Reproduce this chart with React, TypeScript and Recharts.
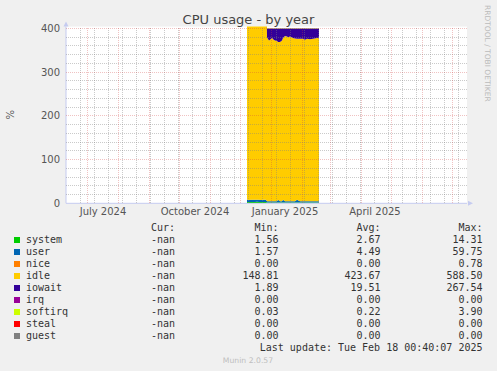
import React from 'react';
import { ComposedChart, Area, XAxis, YAxis, CartesianGrid, ReferenceLine, ReferenceDot } from 'recharts';

// days since 1 July 2024
const days = [160, 162, 164, 166, 168, 170, 172, 174, 176, 178, 179,
  180, 181, 182, 184, 185, 186, 188, 190, 191, 193, 195, 196, 198, 200, 201, 203, 206, 208, 210, 213, 216, 218, 220, 223, 226, 230, 232];

const systemVals = [3.2, 3.0, 3.1, 2.9, 3.0, 3.3, 3.1, 2.9, 3.0, 3.2, 3.1,
  2.0, 2.0, 2.0, 2.0, 2.0, 2.0, 2.0, 2.0, 2.0, 2.0, 2.0, 2.0, 2.0, 2.0, 2.0, 2.0, 2.0, 2.0, 2.0, 2.0, 2.0, 2.0, 2.0, 2.0, 2.0, 2.0, 2.0];
const userVals = [5.5, 4.8, 5.0, 5.2, 4.9, 5.1, 5.3, 4.8, 5.0, 5.2, 5.0,
  2.8, 2.8, 2.8, 2.8, 2.8, 2.8, 2.8, 2.8, 6.0, 2.8, 2.8, 6.0, 2.8, 2.8, 2.8, 2.8, 2.8, 2.8, 6.0, 2.8, 2.8, 2.8, 2.8, 2.8, 2.8, 2.8, 2.8];
const niceVals = [0, 0, 0, 0, 0, 0, 0, 0, 0, 0, 0,
  0, 0, 0, 0, 0, 0, 0, 0, 0, 0, 0, 0, 0, 0, 0, 0, 0, 0, 0, 0, 0, 0, 0, 0, 0, 0, 0];
const idleVals = [578, 581, 580, 583, 579, 582, 580, 584, 581, 579, 580,
  375.0, 371.0, 367.6, 371.0, 373.5, 370.0, 367.6, 366.0, 360.5, 363.7, 367.6, 369.6, 377.4, 376.7, 375.0, 376.7, 372.8, 372.0, 368.0, 371.2, 371.2, 369.0, 371.2, 369.9, 371.2, 372.8, 373.5];
const iowaitVals = [2.1, 2.4, 2.0, 2.2, 2.6, 2.1, 2.3, 2.0, 2.5, 2.2, 2.3,
  20, 24, 27.4, 24, 21.5, 25, 27.4, 29, 31.3, 31.3, 27.4, 22.2, 17.6, 18.3, 20, 18.3, 22.2, 23, 23.8, 23.8, 23.8, 26, 23.8, 25.1, 23.8, 22.2, 21.5];
const irqVals = [0, 0, 0, 0, 0, 0, 0, 0, 0, 0, 0,
  0, 0, 0, 0, 0, 0, 0, 0, 0, 0, 0, 0, 0, 0, 0, 0, 0, 0, 0, 0, 0, 0, 0, 0, 0, 0, 0];
const softirqVals = [0.3, 0.3, 0.3, 0.3, 0.3, 0.3, 0.3, 0.3, 0.3, 0.3, 0.3,
  0.2, 0.2, 0.2, 0.2, 0.2, 0.2, 0.2, 0.2, 0.2, 0.2, 0.2, 0.2, 0.2, 0.2, 0.2, 0.2, 0.2, 0.2, 0.2, 0.2, 0.2, 0.2, 0.2, 0.2, 0.2, 0.2, 0.2];
const stealVals = [0, 0, 0, 0, 0, 0, 0, 0, 0, 0, 0,
  0, 0, 0, 0, 0, 0, 0, 0, 0, 0, 0, 0, 0, 0, 0, 0, 0, 0, 0, 0, 0, 0, 0, 0, 0, 0, 0];
const guestVals = [0, 0, 0, 0, 0, 0, 0, 0, 0, 0, 0,
  0, 0, 0, 0, 0, 0, 0, 0, 0, 0, 0, 0, 0, 0, 0, 0, 0, 0, 0, 0, 0, 0, 0, 0, 0, 0, 0];

const seriesNames = ['system', 'user', 'nice', 'idle', 'iowait', 'irq', 'softirq', 'steal', 'guest'];
const seriesColors = ['#00CC00', '#0066B3', '#FF8000', '#FFCC00', '#330099', '#990099', '#CCFF00', '#FF0000', '#808080'];
const curVals = ['-nan', '-nan', '-nan', '-nan', '-nan', '-nan', '-nan', '-nan', '-nan'];
const minVals = ['1.56', '1.57', '0.00', '148.81', '1.89', '0.00', '0.03', '0.00', '0.00'];
const avgVals = ['2.67', '4.49', '0.00', '423.67', '19.51', '0.00', '0.22', '0.00', '0.00'];
const maxVals = ['14.31', '59.75', '0.78', '588.50', '267.54', '0.00', '3.90', '0.00', '0.00'];

const xTicks = [16, 108, 198, 288];
const xTickLabels = ['July 2024', 'October 2024', 'January 2025', 'April 2025'];
const yTicks = [0, 100, 200, 300, 400];
const yMinorGrid = [20, 40, 60, 80, 120, 140, 160, 180, 220, 240, 260, 280, 320, 340, 360, 380];
const yMajorGrid = [100, 200, 300, 400];
const xMinorGrid = [-7, 7, 21, 35, 49, 63, 77, 91, 105, 119, 133, 147, 161, 175, 189, 203, 217, 231, 245, 259, 273, 287, 301, 315, 329, 343, 357, 371];
const xMajorGrid = [0, 31, 62, 92, 123, 153, 184, 215, 243, 274, 304, 335, 365];

const seriesValues = [systemVals, userVals, niceVals, idleVals, iowaitVals, irqVals, softirqVals, stealVals, guestVals];
const data = days.map((d, i) => {
  const row: any = { day: d };
  seriesNames.forEach((n, j) => { row[n] = seriesValues[j][i]; });
  return row;
});

const AXIS = '#C5CBF0';
const MINOR = '#808080';
const MAJOR = '#D04040';
const X_DOMAIN = [-21, 380];
const Y_DOMAIN = [0, 404];
const MARGIN = { top: 26.55, right: 30, bottom: 147.7, left: 6 };

export default function App() {
  const rowBase = 243.3;
  return (
    <div style={{ position: 'absolute', left: 0, top: 0, width: 497, height: 371, background: '#F0F0F0', overflow: 'hidden' }}>
      <ComposedChart width={497} height={371} data={data} margin={MARGIN}>
        <CartesianGrid horizontal={false} vertical={false} fill="#FFFFFF" />
        <XAxis dataKey="day" type="number" domain={X_DOMAIN} allowDataOverflow
          ticks={xTicks} interval={0} height={20}
          tickFormatter={(v: number) => xTickLabels[xTicks.indexOf(v)] ?? ''}
          tickLine={false} tickSize={0} tickMargin={5}
          axisLine={{ stroke: AXIS }}
          tick={{ fill: '#555', fontSize: 10, fontFamily: 'DejaVu Sans' }} />
        <YAxis type="number" domain={Y_DOMAIN} allowDataOverflow ticks={yTicks} interval={0}
          width={60} tickLine={false} tickSize={0} tickMargin={6}
          axisLine={{ stroke: AXIS }}
          tick={{ fill: '#555', fontSize: 10, fontFamily: 'DejaVu Sans' }} />
        {seriesNames.map((n, j) => (
          <Area key={n} dataKey={n} stackId="a" type="linear" stroke="none"
            fill={seriesColors[j]} fillOpacity={1} isAnimationActive={false} dot={false} activeDot={false} />
        ))}
        <ReferenceDot x={380} y={0} r={0} ifOverflow="visible"
          shape={(p: any) => <path d={`M${p.cx + 1},${p.cy - 2.5} L${p.cx + 6},${p.cy} L${p.cx + 1},${p.cy + 2.5} Z`} fill={AXIS} />} />
        <ReferenceDot x={-21} y={404} r={0} ifOverflow="visible"
          shape={(p: any) => <path d={`M${p.cx - 2.5},${p.cy} L${p.cx},${p.cy - 5} L${p.cx + 2.5},${p.cy} Z`} fill={AXIS} />} />
      </ComposedChart>
      {/* grid drawn on top of the data, as rrdtool does */}
      <div style={{ position: 'absolute', left: 0, top: 0, pointerEvents: 'none', zIndex: 2 }}>
        <ComposedChart width={497} height={371} data={data} margin={MARGIN}>
          <XAxis dataKey="day" type="number" domain={X_DOMAIN} allowDataOverflow height={20}
            tick={false} tickLine={false} axisLine={false} />
          <YAxis type="number" domain={Y_DOMAIN} allowDataOverflow width={60}
            tick={false} tickLine={false} axisLine={false} />
          {yMinorGrid.map((v) => (
            <ReferenceLine key={'ym' + v} y={v} stroke={MINOR} strokeOpacity={0.42} strokeDasharray="1 1" shapeRendering="crispEdges" />
          ))}
          {xMinorGrid.map((v) => (
            <ReferenceLine key={'xm' + v} x={v} stroke={MINOR} strokeOpacity={0.42} strokeDasharray="1 1" shapeRendering="crispEdges" />
          ))}
          {yMajorGrid.map((v) => (
            <ReferenceLine key={'yM' + v} y={v} stroke={MAJOR} strokeOpacity={0.32} strokeDasharray="1 1" shapeRendering="crispEdges" />
          ))}
          {xMajorGrid.map((v) => (
            <ReferenceLine key={'xM' + v} x={v} stroke={MAJOR} strokeOpacity={0.32} strokeDasharray="1 1" shapeRendering="crispEdges" />
          ))}
        </ComposedChart>
      </div>
      <svg width={497} height={371} style={{ position: 'absolute', left: 0, top: 0, pointerEvents: 'none', zIndex: 3 }}>
        <text x={248.5} y={24} textAnchor="middle" fontFamily="DejaVu Sans" fontSize={13} fill="#444">CPU usage - by year</text>
        <text x={14} y={114.7} textAnchor="middle" fontFamily="DejaVu Sans" fontSize={10} fill="#555" transform="rotate(-90, 14, 114.7)">%</text>
        <text x={485} y={5} textAnchor="start" fontFamily="DejaVu Sans" fontSize={7.5} fill="#BBBBBB" transform="rotate(90, 485, 5)">RRDTOOL / TOBI OETIKER</text>
        <g fontFamily="DejaVu Sans Mono" fontSize={10} fill="#333">
          <text x={175} y={rowBase - 12} textAnchor="end">Cur:</text>
          <text x={278.5} y={rowBase - 12} textAnchor="end">Min:</text>
          <text x={380.5} y={rowBase - 12} textAnchor="end">Avg:</text>
          <text x={482.5} y={rowBase - 12} textAnchor="end">Max:</text>
          {seriesNames.map((n, i) => {
            const y = rowBase + 12 * i;
            return (
              <g key={n}>
                <rect x={14} y={y - 6.3} width={6} height={6} fill={seriesColors[i]} />
                <text x={26} y={y}>{n}</text>
                <text x={175} y={y} textAnchor="end">{curVals[i]}</text>
                <text x={278.5} y={y} textAnchor="end">{minVals[i]}</text>
                <text x={380.5} y={y} textAnchor="end">{avgVals[i]}</text>
                <text x={482.5} y={y} textAnchor="end">{maxVals[i]}</text>
              </g>
            );
          })}
          <text x={482.5} y={rowBase + 12 * 9} textAnchor="end">Last update: Tue Feb 18 00:40:07 2025</text>
        </g>
        <text x={248} y={363} textAnchor="middle" fontFamily="DejaVu Sans" fontSize={7.7} fill="#BEBEBE">Munin 2.0.57</text>
      </svg>
    </div>
  );
}
